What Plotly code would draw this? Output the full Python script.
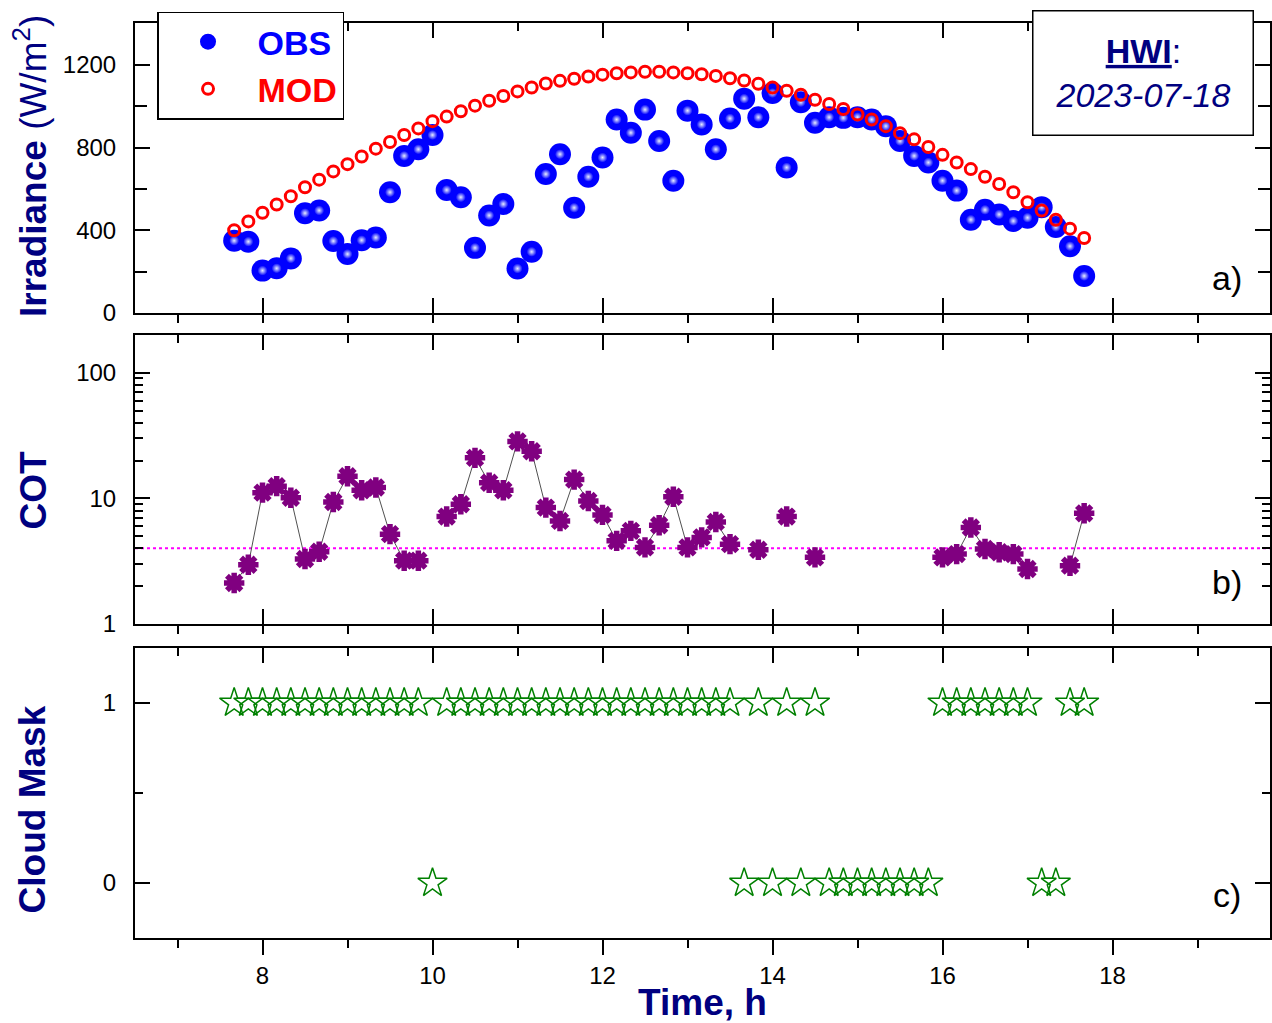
import plotly.graph_objects as go

# ---------------- data ----------------
TIMES = ["07:40", "07:50", "08:00", "08:10", "08:20", "08:30", "08:40", "08:50",
         "09:00", "09:10", "09:20", "09:30", "09:40", "09:50", "10:00", "10:10",
         "10:20", "10:30", "10:40", "10:50", "11:00", "11:10", "11:20", "11:30",
         "11:40", "11:50", "12:00", "12:10", "12:20", "12:30", "12:40", "12:50",
         "13:00", "13:10", "13:20", "13:30", "13:40", "13:50", "14:00", "14:10",
         "14:20", "14:30", "14:40", "14:50", "15:00", "15:10", "15:20", "15:30",
         "15:40", "15:50", "16:00", "16:10", "16:20", "16:30", "16:40", "16:50",
         "17:00", "17:10", "17:20", "17:30", "17:40"]

OBS = [350, 345, 205, 216, 264, 483, 496, 348, 285, 352, 365, 584, 760, 792, 861, 595,
       560, 315, 472, 527, 215, 296, 672, 768, 509, 659, 752, 936, 872, 984, 832, 640,
       979, 912, 792, 941, 1037, 947, 1064, 704, 1020, 920, 947, 944, 947, 936, 904, 832,
       760, 728, 640, 592, 451, 499, 477, 445, 461, 512, 416, 323, 179]

MOD = [400, 443, 485, 525, 565, 608, 645, 685, 720, 757, 795, 827, 861, 893, 928, 950,
       976, 1003, 1027, 1050, 1072, 1091, 1110, 1123, 1133, 1144, 1153, 1160, 1164, 1167, 1167, 1164,
       1160, 1155, 1147, 1136, 1125, 1109, 1091, 1075, 1056, 1032, 1011, 987, 960, 936, 904, 870,
       840, 803, 765, 728, 696, 659, 624, 584, 536, 496, 451, 408, 363]

CLOUD_MASK = [1, 1, 1, 1, 1, 1, 1, 1, 1, 1, 1, 1, 1, 1, 0, 1,
              1, 1, 1, 1, 1, 1, 1, 1, 1, 1, 1, 1, 1, 1, 1, 1,
              1, 1, 1, 1, 0, 1, 0, 1, 0, 1, 0, 0, 0, 0, 0, 0,
              0, 0, 1, 1, 1, 1, 1, 1, 1, 0, 0, 1, 1]

COT = [2.12, 2.96, 11.1, 12.5, 10.1, 3.29, 3.76, 9.35, 15.0, 11.6, 12.2, 5.19, 3.19, 3.19, None, 7.16,
       8.97, 21.0, 13.3, 11.6, 28.4, 23.7, 8.44, 6.61, 14.1, 9.52, 7.38, 4.59, 5.51, 4.07, 6.11, 10.3,
       4.07, 4.89, 6.49, 4.32, None, 3.90, None, 7.16, None, 3.39, None, None, None, None, None, None,
       None, None, 3.39, 3.60, 5.86, 3.95, 3.72, 3.60, 2.74, None, None, 2.91, 7.60]

COT_THRESHOLD = 4.0

X_TICKS = [8, 10, 12, 14, 16, 18]
IRR_TICKS = [0, 400, 800, 1200]
IRR_MINOR = [200, 600, 1000]
COT_TICKS = [1, 10, 100]
COT_MINOR = [2, 3, 4, 5, 6, 7, 8, 9, 20, 30, 40, 50, 60, 70, 80, 90, 200]
MASK_TICKS = [0, 1]
MASK_MINOR = [0.5]

X_RANGE = [6.5, 19.853]

hours = [int(s[:2]) + int(s[3:]) / 60 for s in TIMES]

# ---------------- styling ----------------
FONT = "Liberation Sans, Arial, sans-serif"
NAVY = "#000080"

fig = go.Figure()

fig.add_trace(go.Scatter(
    x=hours, y=OBS, mode="markers", xaxis="x", yaxis="y",
    name="<b><span style='color:#0000ff'>OBS</span></b>",
    marker=dict(symbol="circle", size=22, color="#0000ff", line=dict(width=0))))
fig.add_trace(go.Scatter(
    x=hours, y=OBS, mode="markers", xaxis="x", yaxis="y", showlegend=False,
    hoverinfo="skip",
    marker=dict(symbol="circle", size=10, color="#0000ff",
                gradient=dict(type="radial", color="#e6ecff"), line=dict(width=0))))
fig.add_trace(go.Scatter(
    x=hours, y=MOD, mode="markers", xaxis="x", yaxis="y",
    name="<b><span style='color:#ff0000'>MOD</span></b>",
    marker=dict(symbol="circle-open", size=11, color="#ff0000",
                line=dict(width=3, color="#ff0000"))))

fig.add_trace(go.Scatter(
    x=X_RANGE, y=[COT_THRESHOLD, COT_THRESHOLD], mode="lines", xaxis="x2", yaxis="y2",
    showlegend=False, hoverinfo="skip",
    line=dict(color="#ff00ff", width=2, dash="dot")))
fig.add_trace(go.Scatter(
    x=hours, y=COT, mode="lines+markers", xaxis="x2", yaxis="y2", showlegend=False,
    connectgaps=False,
    line=dict(color="#505050", width=1),
    marker=dict(symbol="asterisk-open", size=17, color="#800080",
                line=dict(width=5.5, color="#800080"))))

fig.add_trace(go.Scatter(
    x=hours, y=CLOUD_MASK, mode="markers", xaxis="x3", yaxis="y3", showlegend=False,
    marker=dict(symbol="star-open", size=22, color="#008000",
                line=dict(width=1.5, color="#008000"))))

# dummy traces so the top-edge axes are drawn
for xa, ya in (("x4", "y"), ("x5", "y2"), ("x6", "y3")):
    fig.add_trace(go.Scatter(x=[None], y=[None], xaxis=xa, yaxis=ya,
                             showlegend=False, hoverinfo="skip"))

axis_common = dict(showline=True, linewidth=2, linecolor="black", showgrid=False,
                   zeroline=False, tickcolor="black", tickwidth=2, automargin=False,
                   tickfont=dict(family=FONT, size=24, color="black"))

def bottom_x(anchor, outside_major, labels):
    d = dict(axis_common)
    d.update(anchor=anchor, range=X_RANGE, tickmode="array", tickvals=X_TICKS,
             ticks="outside" if outside_major else "inside", ticklen=15,
             showticklabels=labels,
             minor=dict(ticks="outside", ticklen=8, dtick=1, tick0=7,
                        tickcolor="black", tickwidth=2, showgrid=False))
    return d

def top_x(over, anchor):
    d = dict(axis_common)
    d.update(overlaying=over, anchor=anchor, side="top", range=X_RANGE,
             tickmode="array", tickvals=X_TICKS, ticks="inside", ticklen=15,
             showticklabels=False,
             minor=dict(ticks="inside", ticklen=8, dtick=1, tick0=7,
                        tickcolor="black", tickwidth=2, showgrid=False))
    return d

xa3 = bottom_x("y3", True, True)
xa3.update(ticklabelstandoff=0)

ya1 = dict(axis_common)
ya1.update(domain=[0.6831, 1.0], anchor="x", range=[0, 1403], tickmode="array",
           tickvals=IRR_TICKS, ticks="inside", ticklen=15, mirror="ticks",
           ticklabelstandoff=12,
           minor=dict(ticks="inside", ticklen=12, tickvals=IRR_MINOR,
                      tickcolor="black", tickwidth=2, showgrid=False))
ya2 = dict(axis_common)
ya2.update(domain=[0.3432, 0.659], anchor="x2", type="log", range=[0, 2.3],
           tickmode="array", tickvals=COT_TICKS, ticktext=["1", "10", "100"],
           ticks="inside", ticklen=15, mirror="ticks", ticklabelstandoff=12,
           minor=dict(ticks="inside", ticklen=8, tickvals=COT_MINOR,
                      tickcolor="black", tickwidth=2, showgrid=False))
ya3 = dict(axis_common)
ya3.update(domain=[0.0, 0.3169], anchor="x3", range=[-0.305, 1.305],
           tickmode="array", tickvals=MASK_TICKS, ticks="inside", ticklen=15,
           mirror="ticks", ticklabelstandoff=12,
           minor=dict(ticks="inside", ticklen=8, tickvals=MASK_MINOR,
                      tickcolor="black", tickwidth=2, showgrid=False))

fig.update_layout(
    width=1272, height=1023,
    margin=dict(l=135, r=2, t=23, b=85),
    paper_bgcolor="white", plot_bgcolor="white",
    font=dict(family=FONT, size=24, color="black"),
    xaxis=bottom_x("y", False, False),
    xaxis2=bottom_x("y2", False, False),
    xaxis3=xa3,
    xaxis4=top_x("x", "y"),
    xaxis5=top_x("x2", "y2"),
    xaxis6=top_x("x3", "y3"),
    yaxis=ya1, yaxis2=ya2, yaxis3=ya3,
    showlegend=True,
    legend=dict(x=0.0194, y=1.0125, xanchor="left", yanchor="top",
                bgcolor="white", bordercolor="black", borderwidth=1.5,
                font=dict(family=FONT, size=34), itemwidth=89,
                tracegroupgap=0),
)

fig.layout.xaxis3.title = dict(text="<b>Time, h</b>", standoff=0,
                               font=dict(family=FONT, size=37, color=NAVY))

annos = [
    dict(text="<b>Irradiance</b> (W/m<sup>2</sup>)", x=-0.0925, y=0.8437, textangle=-90),
    dict(text="<b>COT</b>", x=-0.0895, y=0.4896, textangle=-90),
    dict(text="<b>Cloud Mask</b>", x=-0.0895, y=0.141, textangle=-90),
]
for a in annos:
    fig.add_annotation(xref="paper", yref="paper", showarrow=False,
                       xanchor="center", yanchor="middle",
                       font=dict(family=FONT, size=37, color=NAVY), **a)

for lab, yy in (("a)", 0.7213), ("b)", 0.389), ("c)", 0.047)):
    fig.add_annotation(text=lab, xref="paper", yref="paper", x=0.962, y=yy,
                       showarrow=False, xanchor="center", yanchor="middle",
                       font=dict(family=FONT, size=34, color="black"))

fig.add_annotation(text="<b><u>HWI</u></b>:<br><i>2023-07-18</i>",
                   xref="paper", yref="paper", x=0.8885, y=0.9459,
                   xanchor="center", yanchor="middle", showarrow=False,
                   width=203, height=107, borderpad=8,
                   bordercolor="black", borderwidth=1.5, bgcolor="white",
                   font=dict(family=FONT, size=34, color=NAVY))

fig.write_html("out.html", config={"displayModeBar": False},
               post_script="document.body.style.margin='0px';document.body.style.padding='0px';")
